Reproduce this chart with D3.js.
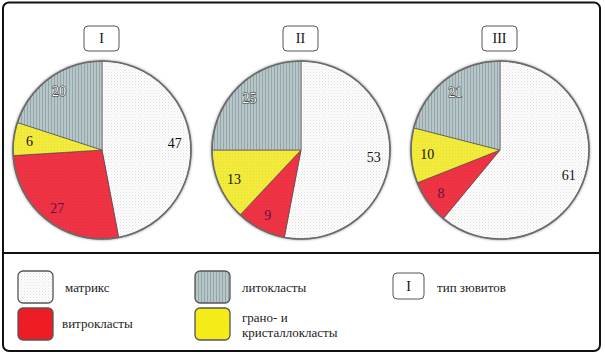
<!DOCTYPE html>
<html><head><meta charset="utf-8">
<script src="https://cdn.jsdelivr.net/npm/d3@7"></script>
<style>
html,body{margin:0;padding:0;background:#fff;}
svg{display:block;}
</style></head>
<body>
<svg id="chart" width="605" height="356" font-family="Liberation Serif, DejaVu Serif, serif"></svg>
<script>
const types = ["I", "II", "III"];
const categories = ["матрикс", "витрокласты", "грано- и кристаллокласты", "литокласты"];
const matrixValues = [47, 53, 61];
const vitroValues = [27, 9, 8];
const granoValues = [6, 13, 10];
const litoValues = [20, 25, 21];
const legendTypeLabel = "тип зювитов";

const svg = d3.select("#chart");
const defs = svg.append("defs");

// patterns
const pm = defs.append("pattern").attr("id","pMatrix").attr("patternUnits","userSpaceOnUse").attr("width",3).attr("height",3);
pm.append("rect").attr("width",3).attr("height",3).attr("fill","#fdfdfd");
pm.append("rect").attr("x",0).attr("y",0).attr("width",1).attr("height",1).attr("fill","#e0e0e0");
pm.append("rect").attr("x",1.5).attr("y",1.5).attr("width",1).attr("height",1).attr("fill","#ececec");

const pl = defs.append("pattern").attr("id","pLito").attr("patternUnits","userSpaceOnUse").attr("width",3).attr("height",4);
pl.append("rect").attr("width",3).attr("height",4).attr("fill","#b7c6c9");
pl.append("rect").attr("x",0).attr("width",1).attr("height",4).attr("fill","#94a6aa");

const py = defs.append("pattern").attr("id","pYellow").attr("patternUnits","userSpaceOnUse").attr("width",3).attr("height",3);
py.append("rect").attr("width",3).attr("height",3).attr("fill","#f3eb3c");
py.append("rect").attr("width",1).attr("height",1).attr("fill","#e6dd36");

const pr = defs.append("pattern").attr("id","pRed").attr("patternUnits","userSpaceOnUse").attr("width",3).attr("height",3);
pr.append("rect").attr("width",3).attr("height",3).attr("fill","#ee3444");
pr.append("rect").attr("width",1).attr("height",1).attr("fill","#e52f3f");

const sh = defs.append("filter").attr("id","shadow").attr("x","-20%").attr("y","-20%").attr("width","140%").attr("height","140%");
sh.append("feGaussianBlur").attr("in","SourceAlpha").attr("stdDeviation",1.6);

const fills = ["url(#pMatrix)", "url(#pRed)", "url(#pYellow)", "url(#pLito)"];
const labelFill = ["#111", "#6a0f45", "#111", "#fff"];
const labelStroke = ["none", "none", "none", "#333"];

// frame
svg.append("rect").attr("x",3).attr("y",2.5).attr("width",597).attr("height",348.5).attr("rx",6)
  .attr("fill","#fff").attr("stroke","#111").attr("stroke-width",2);
svg.append("line").attr("x1",3).attr("x2",600).attr("y1",253).attr("y2",253).attr("stroke","#111").attr("stroke-width",2);

const x = d3.scalePoint().domain(types).range([102, 500]);
const R = 89;
const pie = d3.pie().sort(null).value(d => d.v);
const arc = d3.arc().innerRadius(0).outerRadius(R);
const labelArc = d3.arc().innerRadius(73).outerRadius(73);

types.forEach((t, i) => {
  const cx = x(t), cy = 150;
  const g = svg.append("g").attr("transform", `translate(${cx},${cy})`);
  const data = [matrixValues[i], vitroValues[i], granoValues[i], litoValues[i]].map((v, k) => ({v, k}));
  g.append("circle").attr("r", R + 0.5).attr("fill","#000").attr("opacity",0.55).attr("filter","url(#shadow)");
  const arcs = pie(data);
  g.selectAll("path.s").data(arcs).join("path").attr("class","s")
    .attr("d", arc).attr("fill", d => fills[d.data.k])
    .attr("stroke", "#4a4a4a").attr("stroke-width", 0.6).attr("stroke-linejoin","round");
  g.append("circle").attr("r", R).attr("fill","none").attr("stroke","#6a6a6a").attr("stroke-width",1.6);
  g.selectAll("text.l").data(arcs).join("text").attr("class","l")
    .attr("transform", d => `translate(${labelArc.centroid(d)})`)
    .attr("text-anchor","middle").attr("dy","0.35em")
    .attr("font-size", 14)
    .attr("fill", d => labelFill[d.data.k])
    .attr("stroke", d => labelStroke[d.data.k]).attr("stroke-width", 1.1)
    .attr("paint-order","stroke")
    .text(d => d.data.v);
  // type box
  svg.append("rect").attr("x", cx - 18).attr("y", 26).attr("width", 35).attr("height", 25).attr("rx", 4)
    .attr("fill","#fff").attr("stroke","#555").attr("stroke-width",1);
  svg.append("text").attr("x", cx - 0.5).attr("y", 38.5).attr("dy","0.35em").attr("text-anchor","middle")
    .attr("font-size", 14).attr("fill","#111").text(t);
});

// legend
const legendFills = ["url(#pMatrix)", "#ee1c25", "#f4eb19", "url(#pLito)"];
const legendPos = [[18, 271], [18, 308], [195, 308], [195, 271]];
const legendText = [
  {x: 65, y: 287},
  {x: 62, y: 323},
  {x: 242, y: 317},
  {x: 242, y: 287}
];
categories.forEach((c, k) => {
  svg.append("rect").attr("x", legendPos[k][0]).attr("y", legendPos[k][1]).attr("width", 35).attr("height", 32).attr("rx", 5)
    .attr("fill", legendFills[k]).attr("stroke", "#555").attr("stroke-width", 1.3);
  const lt = legendText[k];
  const words = k === 2 ? ["грано- и", "кристаллокласты"] : [c];
  words.forEach((w, j) => {
    svg.append("text").attr("x", lt.x).attr("y", lt.y + j * 15).attr("dy","0.35em")
      .attr("font-size", 13).attr("fill","#222").text(w);
  });
});
svg.append("rect").attr("x", 393).attr("y", 273).attr("width", 31).attr("height", 26).attr("rx", 4)
  .attr("fill","#fff").attr("stroke","#555").attr("stroke-width",1);
svg.append("text").attr("x", 408.5).attr("y", 286).attr("dy","0.35em").attr("text-anchor","middle")
  .attr("font-size", 14).attr("fill","#111").text(types[0]);
svg.append("text").attr("x", 437).attr("y", 287).attr("dy","0.35em")
  .attr("font-size", 13).attr("fill","#222").text(legendTypeLabel);
</script>
</body></html>
